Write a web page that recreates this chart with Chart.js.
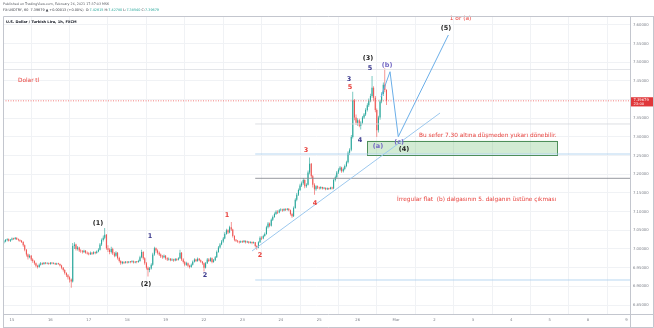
<!DOCTYPE html>
<html>
<head>
<meta charset="utf-8">
<script src="https://cdn.jsdelivr.net/npm/chart.js@4.4.1/dist/chart.umd.min.js"></script>
<style>
  html, body { margin: 0; padding: 0; background: #fff; }
  canvas { display: block; }
</style>
</head>
<body>
<canvas id="chart" width="654" height="328"></canvas>
<script>
// x axis = trading hour index, 0 = Feb 15 00:00, one label per trading day
const dayLabels = ['15', '16', '17', '18', '19', '22', '23', '24', '25', '26', 'Mar', '2', '3', '4', '5', '8', '9'];
const priceTicks = [6.85, 6.90, 6.95, 7.00, 7.05, 7.10, 7.15, 7.20, 7.25, 7.30, 7.35, 7.40, 7.45, 7.50, 7.55, 7.60];

// hourly candles, open = previous close
const firstHour = -5;
const firstOpen = 7.018;
const closes = [
  7.020, 7.024, 7.026, 7.022, 7.025,
  // Feb 15
  7.028, 7.027, 7.030, 7.026, 7.024, 7.022, 7.019, 7.010, 6.998, 6.985, 6.978, 6.982,
  6.972, 6.968, 6.962, 6.955, 6.952, 6.958, 6.962, 6.960, 6.963, 6.961, 6.962, 6.960,
  // Feb 16
  6.963, 6.961, 6.962, 6.959, 6.961, 6.960, 6.956, 6.950, 6.944, 6.936, 6.930, 6.924,
  6.918, 6.913, 7.008, 7.012, 7.000, 7.004, 6.996, 6.994, 6.992, 6.995, 6.990, 6.988,
  // Feb 17
  6.986, 6.990, 6.987, 6.991, 6.989, 6.993, 6.998, 7.012, 7.024, 7.030, 7.038, 7.002,
  6.998, 6.992, 7.000, 6.988, 6.982, 6.990, 6.976, 6.968, 6.962, 6.965, 6.963, 6.966,
  // Feb 18
  6.964, 6.966, 6.965, 6.967, 6.964, 6.966, 6.965, 6.968, 6.978, 6.992, 6.975, 6.962,
  6.950, 6.944, 6.948, 6.958, 6.985, 7.002, 6.996, 6.990, 6.985, 6.980, 6.978, 6.982,
  // Feb 19
  6.975, 6.972, 6.974, 6.970, 6.972, 6.969, 6.973, 6.971, 6.975, 6.990, 6.972, 6.965,
  6.958, 6.962, 6.955, 6.952, 6.958, 6.966, 6.972, 6.968, 6.974, 6.970, 6.966, 6.962,
  // Feb 22
  6.950, 6.962, 6.972, 6.968, 6.975, 6.965, 6.970, 6.978, 6.992, 7.004, 7.012, 7.020,
  7.028, 7.040, 7.050, 7.044, 7.058, 7.052, 7.035, 7.025, 7.022, 7.020, 7.018, 7.021,
  // Feb 23
  7.019, 7.022, 7.018, 7.020, 7.017, 7.019, 7.016, 7.018, 7.008, 7.004, 7.018, 7.030,
  7.028, 7.035, 7.040, 7.058, 7.068, 7.062, 7.078, 7.086, 7.094, 7.100, 7.098, 7.104,
  // Feb 24
  7.106, 7.103, 7.107, 7.105, 7.108, 7.104, 7.094, 7.088, 7.110, 7.132, 7.145, 7.158,
  7.170, 7.176, 7.185, 7.168, 7.172, 7.205, 7.228, 7.195, 7.172, 7.160, 7.168, 7.165,
  // Feb 25
  7.163, 7.166, 7.162, 7.164, 7.160, 7.163, 7.161, 7.165, 7.162, 7.185, 7.192, 7.205,
  7.212, 7.218, 7.208, 7.214, 7.222, 7.232, 7.258, 7.266, 7.300, 7.398, 7.352, 7.338,
  // Feb 26
  7.345, 7.330, 7.338, 7.352, 7.360, 7.372, 7.385, 7.398, 7.410, 7.432, 7.405, 7.372,
  7.318, 7.352, 7.395, 7.415, 7.440, 7.426, 7.39679
];
const highs = [
  7.024, 7.027, 7.029, 7.028, 7.027,
  7.031, 7.030, 7.032, 7.031, 7.028, 7.026, 7.024, 7.021, 7.012, 7.000, 6.988, 6.986,
  6.984, 6.975, 6.970, 6.964, 6.958, 6.961, 6.965, 6.964, 6.965, 6.965, 6.964, 6.964,
  6.965, 6.965, 6.964, 6.963, 6.963, 6.963, 6.961, 6.958, 6.952, 6.946, 6.938, 6.933,
  6.927, 6.921, 7.016, 7.018, 7.014, 7.008, 7.006, 6.999, 6.997, 6.998, 6.997, 6.993,
  6.991, 6.993, 6.992, 6.994, 6.993, 6.996, 7.002, 7.016, 7.028, 7.036, 7.056, 7.040,
  7.010, 7.002, 7.006, 7.003, 6.992, 6.994, 6.992, 6.979, 6.970, 6.968, 6.967, 6.968,
  6.968, 6.968, 6.968, 6.970, 6.969, 6.968, 6.968, 6.971, 6.982, 6.998, 6.994, 6.978,
  6.965, 6.953, 6.952, 6.962, 6.990, 7.006, 7.004, 6.999, 6.993, 6.988, 6.984, 6.985,
  6.984, 6.978, 6.977, 6.976, 6.975, 6.974, 6.976, 6.975, 6.978, 6.998, 6.992, 6.975,
  6.968, 6.966, 6.964, 6.958, 6.961, 6.969, 6.975, 6.974, 6.977, 6.976, 6.972, 6.968,
  6.964, 6.965, 6.976, 6.975, 6.978, 6.977, 6.973, 6.981, 6.996, 7.008, 7.016, 7.024,
  7.032, 7.045, 7.054, 7.053, 7.062, 7.072, 7.054, 7.037, 7.027, 7.024, 7.022, 7.023,
  7.023, 7.024, 7.023, 7.022, 7.021, 7.021, 7.020, 7.020, 7.019, 7.010, 7.021, 7.034,
  7.034, 7.038, 7.044, 7.062, 7.072, 7.071, 7.082, 7.090, 7.098, 7.104, 7.104, 7.107,
  7.109, 7.108, 7.109, 7.109, 7.110, 7.109, 7.106, 7.097, 7.114, 7.136, 7.150, 7.162,
  7.175, 7.181, 7.190, 7.187, 7.176, 7.210, 7.245, 7.230, 7.198, 7.176, 7.171, 7.170,
  7.167, 7.168, 7.167, 7.166, 7.165, 7.165, 7.164, 7.167, 7.167, 7.189, 7.197, 7.209,
  7.216, 7.222, 7.220, 7.218, 7.226, 7.236, 7.262, 7.270, 7.305, 7.421, 7.402, 7.360,
  7.350, 7.349, 7.342, 7.356, 7.364, 7.377, 7.390, 7.403, 7.416, 7.463, 7.436, 7.410,
  7.376, 7.357, 7.400, 7.420, 7.446, 7.484, 7.4278
];
const lows = [
  7.015, 7.018, 7.021, 7.020, 7.019,
  7.023, 7.024, 7.025, 7.024, 7.021, 7.019, 7.016, 7.006, 6.994, 6.980, 6.972, 6.975,
  6.968, 6.963, 6.958, 6.951, 6.948, 6.950, 6.956, 6.957, 6.958, 6.959, 6.959, 6.958,
  6.958, 6.959, 6.959, 6.957, 6.957, 6.958, 6.953, 6.946, 6.940, 6.932, 6.925, 6.918,
  6.910, 6.896, 6.910, 7.000, 6.996, 6.996, 6.992, 6.990, 6.988, 6.989, 6.987, 6.985,
  6.983, 6.984, 6.984, 6.985, 6.986, 6.987, 6.991, 6.996, 7.008, 7.020, 7.026, 6.998,
  6.992, 6.986, 6.988, 6.984, 6.978, 6.979, 6.972, 6.964, 6.958, 6.959, 6.960, 6.961,
  6.961, 6.962, 6.962, 6.963, 6.961, 6.962, 6.962, 6.963, 6.966, 6.975, 6.971, 6.958,
  6.945, 6.926, 6.938, 6.945, 6.955, 6.982, 6.990, 6.985, 6.981, 6.976, 6.974, 6.975,
  6.971, 6.968, 6.969, 6.967, 6.968, 6.966, 6.967, 6.968, 6.969, 6.973, 6.968, 6.961,
  6.954, 6.955, 6.951, 6.948, 6.950, 6.956, 6.964, 6.965, 6.966, 6.967, 6.963, 6.958,
  6.940, 6.948, 6.960, 6.965, 6.966, 6.962, 6.963, 6.968, 6.976, 6.990, 7.001, 7.010,
  7.017, 7.026, 7.038, 7.040, 7.042, 7.048, 7.031, 7.021, 7.019, 7.017, 7.015, 7.016,
  7.016, 7.017, 7.015, 7.016, 7.014, 7.015, 7.013, 7.014, 7.004, 6.998, 7.002, 7.016,
  7.024, 7.026, 7.033, 7.038, 7.055, 7.058, 7.060, 7.075, 7.084, 7.091, 7.094, 7.096,
  7.101, 7.100, 7.101, 7.102, 7.103, 7.101, 7.090, 7.084, 7.086, 7.108, 7.128, 7.142,
  7.155, 7.166, 7.172, 7.163, 7.164, 7.170, 7.200, 7.190, 7.165, 7.145, 7.156, 7.161,
  7.159, 7.160, 7.159, 7.160, 7.157, 7.158, 7.158, 7.159, 7.159, 7.160, 7.181, 7.189,
  7.201, 7.208, 7.204, 7.205, 7.211, 7.219, 7.229, 7.252, 7.262, 7.296, 7.345, 7.332,
  7.330, 7.326, 7.320, 7.334, 7.348, 7.356, 7.368, 7.380, 7.393, 7.405, 7.398, 7.366,
  7.300, 7.312, 7.346, 7.390, 7.410, 7.420, 7.3854
];
const lastPrice = 7.39679;

// drawings on the chart (hour, price)
const trendHours = [150, 267.5];
const trendPrices = [6.9946, 7.3642];
const projHours = [230.6, 236.25, 241.4, 272.7];
const projPrices = [7.407, 7.4748, 7.3008, 7.5731];
const levelGrayFull = 7.4807;
const levelGray = [7.3348, 7.1893];
const levelBlue = [7.2544, 6.917];
const levelStart = 152;
const boxHours = [221.9, 340.6];
const boxPrices = [7.2536, 7.2898];

// Elliott wave labels
const waveText  = ['(1)', '(2)', '1', '2', '1', '2', '3', '4', '3', '5', '4', '(3)', '5', '(b)', '(a)', '(c)', '(4)', '(5)'];
const waveHour  = [53.75, 83.75, 86.25, 120.6, 134.4, 155, 183.75, 189.4, 210.6, 211.25, 217.5, 222.5, 223.75, 234.4, 228.75, 241.9, 245, 271.25];
const wavePrice = [7.0696, 6.9063, 7.0348, 6.9304, 7.0911, 6.9839, 7.2651, 7.1232, 7.4553, 7.4339, 7.2919, 7.5115, 7.4847, 7.4928, 7.2758, 7.2865, 7.2678, 7.5919];
const waveDegree = ['P', 'P', 'm', 'm', 'r', 'r', 'r', 'r', 'm', 'r', 'm', 'P', 'm', 's', 's', 's', 'P', 'P'];

const noteText  = ['Dolar tl', 'Bu sefer 7.30 altına düşmeden yukarı dönebilir.', 'İrregular flat  (b) dalgasının 5. dalganın üstüne çıkması', '1 or (a)'];
const noteHour  = [3.75, 254.4, 240.6, 280.3];
const notePrice = [7.4526, 7.3045, 7.1331, 7.6165];
const noteAlign = ['left', 'left', 'left', 'center'];

const X_MIN = -5.6, X_MAX = 386.2;
const Y_MIN = 6.8259, Y_MAX = 7.624;

const UP = '#26a69a', DOWN = '#ef5350';
const RED_TEXT = '#e8413c';
const DEGREE_COLOR = { P: '#1f1f1f', m: '#3d3b8e', r: '#e8413c', s: '#7468c4' };
const FONT = '"DejaVu Sans", sans-serif';

const opens = closes.map((c, i) => (i === 0 ? firstOpen : closes[i - 1]));
const candleColors = closes.map((c, i) => (c >= opens[i] ? UP : DOWN));

const hline = (v, from) => [{ x: from, y: v }, { x: X_MAX, y: v }];
const lineSet = (data, color, extra) => Object.assign({
    type: 'line', data, borderColor: color, borderWidth: 1,
    pointRadius: 0, tension: 0, fill: false,
}, extra || {});

const drawingsPlugin = {
    id: 'drawings',
    beforeDatasetsDraw(chart) {
        const { ctx, scales: { x, y } } = chart;
        // green target box
        const x0 = x.getPixelForValue(boxHours[0]), x1 = x.getPixelForValue(boxHours[1]);
        const y0 = y.getPixelForValue(boxPrices[1]), y1 = y.getPixelForValue(boxPrices[0]);
        ctx.save();
        ctx.fillStyle = 'rgba(76, 175, 80, 0.25)';
        ctx.fillRect(x0, y0, x1 - x0, y1 - y0);
        ctx.strokeStyle = '#4e8f5a';
        ctx.lineWidth = 1;
        ctx.strokeRect(Math.round(x0) + 0.5, Math.round(y0) + 0.5, Math.round(x1 - x0), Math.round(y1 - y0));
        ctx.restore();
    },
    afterDraw(chart) {
        const { ctx, chartArea: a, scales: { x, y } } = chart;
        ctx.save();
        ctx.textBaseline = 'middle';

        // wave labels
        ctx.textAlign = 'center';
        ctx.font = 'bold 6.5px ' + FONT;
        waveText.forEach((t, i) => {
            ctx.fillStyle = DEGREE_COLOR[waveDegree[i]];
            ctx.fillText(t, x.getPixelForValue(waveHour[i]), y.getPixelForValue(wavePrice[i]));
        });

        // notes
        ctx.font = '5.8px ' + FONT;
        ctx.fillStyle = RED_TEXT;
        noteText.forEach((t, i) => {
            ctx.textAlign = noteAlign[i];
            ctx.fillText(t, x.getPixelForValue(noteHour[i]), y.getPixelForValue(notePrice[i]));
        });

        // frame
        ctx.strokeStyle = '#c3c6ce';
        ctx.lineWidth = 1;
        ctx.beginPath();
        ctx.moveTo(a.left + 0.5, 328); ctx.lineTo(a.left + 0.5, a.top + 0.5); ctx.lineTo(654, a.top + 0.5);
        ctx.moveTo(653.5, a.top); ctx.lineTo(653.5, 327.5); ctx.lineTo(a.left, 327.5);
        ctx.moveTo(a.right + 0.5, a.top); ctx.lineTo(a.right + 0.5, 328);
        ctx.moveTo(a.left, a.bottom + 0.5); ctx.lineTo(654, a.bottom + 0.5);
        ctx.stroke();

        // last price tag
        const py = y.getPixelForValue(lastPrice);
        ctx.fillStyle = '#e0373a';
        ctx.fillRect(a.right + 1, py - 3.6, 22, 9.2);
        ctx.fillStyle = '#fff';
        ctx.textAlign = 'left';
        ctx.font = '3.7px ' + FONT;
        ctx.fillText(lastPrice.toFixed(5), a.right + 3.5, py - 0.6);
        ctx.fillText('23:00', a.right + 3.5, py + 3.4);

        // header
        ctx.fillStyle = '#55585f';
        ctx.font = '3.3px ' + FONT;
        ctx.fillText('Published on TradingView.com, February 26, 2021 17:37:03 MSK', 3, 4);
        const parts = [
            ['FX:USDTRY, 60  7.39679 \u25B2 +0.00013 (+0.00%)  O:', '#3a3d45'],
            ['7.42615', '#26a69a'], [' H:', '#3a3d45'], ['7.42780', '#26a69a'],
            [' L:', '#3a3d45'], ['7.38540', '#26a69a'], [' C:', '#3a3d45'], ['7.39679', '#26a69a'],
        ];
        let px = 3;
        ctx.font = '3.4px ' + FONT;
        parts.forEach(([t, c]) => {
            ctx.fillStyle = c;
            ctx.fillText(t, px, 10);
            px += ctx.measureText(t).width;
        });
        ctx.fillStyle = '#131722';
        ctx.font = 'bold 3.6px ' + FONT;
        ctx.fillText('U.S. Dollar / Turkish Lira, 1h, FXCM', 6, 22.5);
        ctx.restore();
    },
};

new Chart(document.getElementById('chart'), {
    type: 'bar',
    data: {
        datasets: [
            lineSet(projHours.map((h, i) => ({ x: h, y: projPrices[i] })), '#6aaee8'),
            lineSet(trendHours.map((h, i) => ({ x: h, y: trendPrices[i] })), '#9cc8ee'),
            lineSet(hline(levelBlue[0], levelStart), '#a6cdee', { borderWidth: 0.8 }),
            lineSet(hline(levelBlue[1], levelStart), '#a6cdee', { borderWidth: 0.8 }),
            lineSet(hline(levelGray[0], levelStart), '#d3d6dc', { borderWidth: 0.8 }),
            lineSet(hline(levelGray[1], levelStart), '#8a8d94', { borderWidth: 0.9 }),
            lineSet(hline(levelGrayFull, X_MIN), '#dcdee3', { borderWidth: 0.8 }),
            lineSet(hline(lastPrice, X_MIN), 'rgba(239, 83, 80, 0.75)', { borderDash: [1, 1.5] }),
            {
                label: 'body',
                data: closes.map((c, i) => ({ x: firstHour + i, y: [opens[i], c] })),
                backgroundColor: candleColors,
                barThickness: 1.05,
                minBarLength: 0.7,
                inflateAmount: 0,
                grouped: false,
                borderWidth: 0,
            },
            {
                label: 'wick',
                data: closes.map((c, i) => ({ x: firstHour + i, y: [lows[i], highs[i]] })),
                backgroundColor: candleColors,
                barThickness: 0.6,
                inflateAmount: 0,
                grouped: false,
                borderWidth: 0,
            },
        ],
    },
    options: {
        responsive: false,
        animation: false,
        layout: { padding: { left: 3, top: 16, right: 0, bottom: 0 } },
        plugins: { legend: { display: false }, tooltip: { enabled: false } },
        scales: {
            x: {
                type: 'linear',
                min: X_MIN,
                max: X_MAX,
                offset: false,
                afterBuildTicks: (s) => { s.ticks = dayLabels.map((_, i) => ({ value: i * 24 })); },
                afterFit: (s) => { s.height = 14; },
                ticks: {
                    autoSkip: false, maxRotation: 0, padding: 4,
                    font: { size: 3.8, family: FONT }, color: '#7b7f88',
                    callback: (v) => dayLabels[Math.round(v / 24)],
                },
                grid: { color: '#f0f2f5', drawTicks: false },
                border: { display: false },
            },
            y: {
                position: 'right',
                min: Y_MIN,
                max: Y_MAX,
                afterBuildTicks: (s) => { s.ticks = priceTicks.map((v) => ({ value: v })); },
                afterFit: (s) => { s.width = 24; },
                ticks: {
                    padding: 3,
                    font: { size: 3.8, family: FONT }, color: '#7b7f88',
                    callback: (v) => v.toFixed(5),
                },
                grid: { color: '#f0f2f5', drawTicks: false },
                border: { display: false },
            },
        },
    },
    plugins: [drawingsPlugin],
});
</script>
</body>
</html>
